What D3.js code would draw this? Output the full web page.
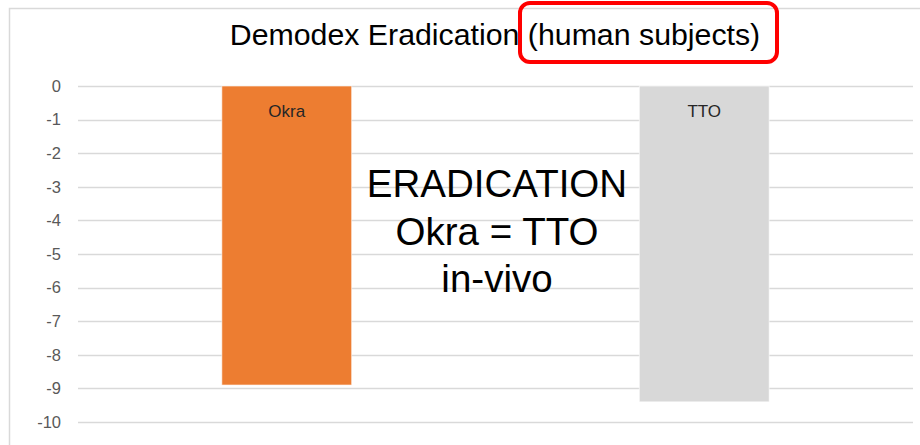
<!DOCTYPE html>
<html>
<head>
<meta charset="utf-8">
<script src="https://cdn.jsdelivr.net/npm/d3@7"></script>
<style>
  html, body { margin: 0; padding: 0; background: #fff; }
  svg { display: block; font-family: "Liberation Sans", Arial, sans-serif; }
</style>
</head>
<body>
<div id="chart"></div>
<script>
// chart data
const categories = ['Okra', 'TTO'];
const values = [-8.9, -9.4];
const barColors = ['#ED7D31', '#D8D8D8'];
const yTicks = [0, -1, -2, -3, -4, -5, -6, -7, -8, -9, -10];
const noteLines = ['ERADICATION', 'Okra = TTO', 'in-vivo'];

const width = 920;
const height = 445;

const svg = d3.select('#chart')
    .append('svg')
    .attr('width', width)
    .attr('height', height);

// chart area frame (top and left edges only are visible)
svg.append('path')
    .attr('d', 'M9.5,445 L9.5,8.5 L920,8.5')
    .attr('fill', 'none')
    .attr('stroke', '#d9d9d9')
    .attr('stroke-width', 1.5);

const x = d3.scaleBand()
    .domain(categories)
    .range([78, 913])
    .paddingInner(0.689)
    .paddingOuter(0.689 / 2);

const y = d3.scaleLinear()
    .domain([-10, 0])
    .range([422, 86]);

// gridlines
svg.append('g')
    .selectAll('line')
    .data(yTicks)
    .enter().append('line')
    .attr('x1', 78)
    .attr('x2', 913)
    .attr('y1', d => Math.round(y(d)) + 0.5)
    .attr('y2', d => Math.round(y(d)) + 0.5)
    .attr('stroke', '#d9d9d9')
    .attr('stroke-width', 1.5);

// y axis labels (plain hyphen, as in the original)
const yAxis = d3.axisLeft(y)
    .tickValues(yTicks)
    .tickSize(0)
    .tickPadding(0)
    .tickFormat(d => String(d));

const ag = svg.append('g')
    .attr('transform', 'translate(61,0)')
    .call(yAxis);
ag.select('.domain').remove();
ag.selectAll('text')
    .attr('fill', '#595959')
    .style('font-size', '16.5px')
    .style('font-family', '"Liberation Sans", Arial, sans-serif');

// bars
svg.append('g')
    .selectAll('rect')
    .data(categories)
    .enter().append('rect')
    .attr('x', d => x(d))
    .attr('y', y(0))
    .attr('width', x.bandwidth())
    .attr('height', (d, i) => y(values[i]) - y(0))
    .attr('fill', (d, i) => barColors[i])
    .attr('stroke', '#ffffff')
    .attr('stroke-opacity', 0.6)
    .attr('stroke-width', 1);

// category labels inside bars
svg.append('g')
    .selectAll('text')
    .data(categories)
    .enter().append('text')
    .attr('x', d => x(d) + x.bandwidth() / 2)
    .attr('y', 117)
    .attr('text-anchor', 'middle')
    .attr('fill', '#262626')
    .style('font-size', '17px')
    .text(d => d);

// title
svg.append('text')
    .attr('x', 495)
    .attr('y', 45)
    .attr('text-anchor', 'middle')
    .attr('fill', '#000')
    .style('font-size', '30.3px')
    .text('Demodex Eradication (human subjects)');

// red highlight box round "(human subjects)"
svg.append('rect')
    .attr('x', 520)
    .attr('y', 3)
    .attr('width', 257)
    .attr('height', 59)
    .attr('rx', 10)
    .attr('fill', 'none')
    .attr('stroke', '#ff0000')
    .attr('stroke-width', 4);

// overlay note
svg.append('g')
    .selectAll('text')
    .data(noteLines)
    .enter().append('text')
    .attr('x', 497)
    .attr('y', (d, i) => 197 + i * 47.5)
    .attr('text-anchor', 'middle')
    .attr('fill', '#000')
    .style('font-size', '38.5px')
    .text(d => d);
</script>
</body>
</html>
